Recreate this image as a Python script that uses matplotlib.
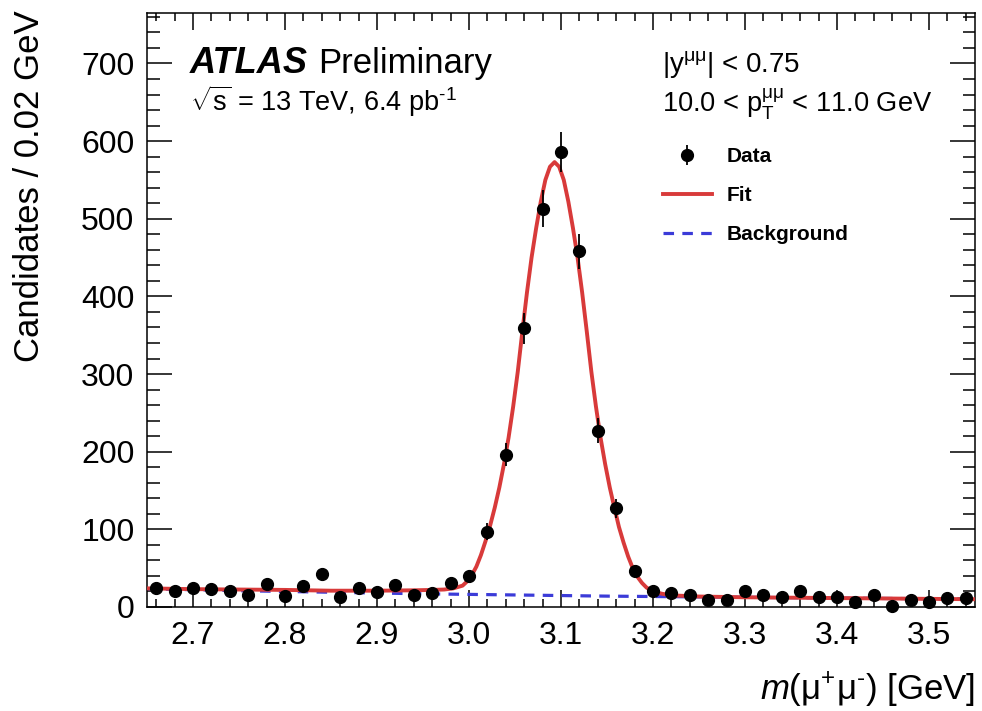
import numpy as np
import matplotlib
matplotlib.use('Agg')
import matplotlib.pyplot as plt
from matplotlib.ticker import MultipleLocator

# --- fontes (estilo ATLAS ~ Helvetica) ---
plt.rcParams['font.family'] = ['Liberation Sans', 'DejaVu Sans']
plt.rcParams['mathtext.fontset'] = 'custom'
plt.rcParams['mathtext.rm'] = 'Liberation Sans'
plt.rcParams['mathtext.it'] = 'Liberation Sans:italic'
plt.rcParams['mathtext.bf'] = 'Liberation Sans:bold'

# --- DADOS: histograma da massa do par de muons (bins de 0.02 GeV) ---
bin_centres = [2.66, 2.68, 2.70, 2.72, 2.74, 2.76, 2.78, 2.80, 2.82, 2.84,
               2.86, 2.88, 2.90, 2.92, 2.94, 2.96, 2.98, 3.00, 3.02, 3.04,
               3.06, 3.08, 3.10, 3.12, 3.14, 3.16, 3.18, 3.20, 3.22, 3.24,
               3.26, 3.28, 3.30, 3.32, 3.34, 3.36, 3.38, 3.40, 3.42, 3.44,
               3.46, 3.48, 3.50, 3.52, 3.54]
counts = [24, 20, 24, 23, 21, 16, 30, 14, 27, 43,
          13, 25, 19, 28, 16, 18, 31, 40, 97, 196,
          359, 513, 586, 458, 227, 127, 46, 21, 18, 16,
          9, 9, 20, 15, 13, 20, 13, 13, 7, 16,
          1, 9, 7, 12, 12]
count_errs = [5, 5, 5, 5, 5, 4, 6, 4, 5, 7,
              4, 5, 4, 5, 4, 4, 6, 7, 11, 15,
              20, 24, 26, 23, 16, 12, 7, 5, 4, 4,
              3, 3, 4, 4, 4, 4, 4, 4, 3, 4,
              2, 3, 3, 4, 4]

# curva do ajuste (sinal + fundo)
fit_mass = [2.65, 2.70, 2.75, 2.80, 2.85, 2.90, 2.94, 2.96, 2.973, 2.983,
            2.993, 2.998, 3.003, 3.008, 3.013, 3.018, 3.023, 3.028, 3.033, 3.038,
            3.043, 3.048, 3.053, 3.058, 3.063, 3.068, 3.073, 3.078, 3.083, 3.088,
            3.093, 3.098, 3.103, 3.108, 3.113, 3.118, 3.123, 3.128, 3.133, 3.138,
            3.143, 3.148, 3.153, 3.158, 3.163, 3.168, 3.173, 3.178, 3.183, 3.188,
            3.193, 3.20, 3.21, 3.22, 3.25, 3.30, 3.35, 3.40, 3.45, 3.50, 3.55]
fit_vals = [24, 23, 22.5, 22, 21, 21, 21.5, 22, 22.5, 24,
            27.5, 33, 41, 52, 67, 85, 105, 128, 154, 184,
            218, 258, 303, 355, 405, 450, 488, 522, 550, 567,
            573, 567, 550, 522, 488, 450, 405, 355, 303, 258,
            218, 184, 154, 128, 103, 83, 65, 50, 39, 31,
            25, 20, 17, 15, 13.5, 12.5, 12, 11.5, 11, 10.5, 10]

# componente de fundo
bkg_mass = [2.65, 2.75, 2.85, 2.95, 3.05, 3.15, 3.25, 3.35, 3.45, 3.55]
bkg_vals = [23.5, 21, 19, 17, 15.5, 14, 13, 12, 11, 10.5]

RED = '#d83a3a'
BLUE = '#3b3bd8'

fig = plt.figure(figsize=(9.82, 7.11), dpi=100)
ax = fig.add_axes([147 / 982, 1 - 607 / 711, 828 / 982, 594 / 711])

bkg_line, = ax.plot(bkg_mass, bkg_vals, color=BLUE, lw=2.3, dashes=(3.3, 2.6), zorder=2)
fit_line, = ax.plot(fit_mass, fit_vals, color=RED, lw=2.8, zorder=3)
data = ax.errorbar(bin_centres, counts, yerr=count_errs, fmt='o', color='black',
                   ms=8.5, elinewidth=1.3, capsize=0, zorder=4, clip_on=False)

ax.set_xlim(2.65, 3.55)
ax.set_ylim(0, 765)

# eixos no estilo ROOT: ticks para dentro nos quatro lados
ax.xaxis.set_major_locator(MultipleLocator(0.1))
ax.xaxis.set_minor_locator(MultipleLocator(0.02))
ax.yaxis.set_major_locator(MultipleLocator(100))
ax.yaxis.set_minor_locator(MultipleLocator(20))
ax.tick_params(axis='both', which='both', direction='in', top=True, right=True,
               width=1.1, labelsize=23)
ax.tick_params(axis='x', which='major', length=12, pad=10)
ax.tick_params(axis='x', which='minor', length=6)
ax.tick_params(axis='y', which='major', length=18, pad=9)
ax.tick_params(axis='y', which='minor', length=9)
ax.set_xticks([2.7, 2.8, 2.9, 3.0, 3.1, 3.2, 3.3, 3.4, 3.5])
ax.set_xticklabels(['2.7', '2.8', '2.9', '3.0', '3.1', '3.2', '3.3', '3.4', '3.5'])
for sp in ax.spines.values():
    sp.set_linewidth(1.1)

# titulos dos eixos (alinhados ao fim, como no ROOT)
fig.text(30 / 982, 1 - 10 / 711, 'Candidates / 0.02 GeV', rotation=90,
         ha='center', va='top', fontsize=25)
fig.text(975 / 982, 1 - 690 / 711, r'$m$(μ$^{+}$μ$^{\text{-}}$) [GeV]',
         ha='right', va='center', fontsize=25)

# rotulos ATLAS
ax.text(0.052, 0.899, 'ATLAS', transform=ax.transAxes, fontsize=26,
        fontweight='bold', fontstyle='italic', va='baseline')
ax.text(0.2065, 0.899, 'Preliminary', transform=ax.transAxes, fontsize=25, va='baseline')
ax.text(0.052, 0.835, r'$\sqrt{\mathrm{s}}$ = 13 TeV, 6.4 pb$^{\text{-}1}$',
        transform=ax.transAxes, fontsize=19.5, va='baseline')
ax.text(0.622, 0.900, r'|y$^{\mathrm{μμ}}$| < 0.75', transform=ax.transAxes,
        fontsize=20, va='baseline')
ax.text(0.622, 0.833, r'10.0 < p$_{\mathrm{T}}^{\mathrm{μμ}}$ < 11.0 GeV',
        transform=ax.transAxes, fontsize=19.6, va='baseline')

ax.legend([data, fit_line, bkg_line], ['Data', 'Fit', 'Background'],
          loc='upper left', bbox_to_anchor=(0.623, 0.774), frameon=False,
          prop={'weight': 'bold', 'size': 15}, borderpad=0, borderaxespad=0,
          handlelength=2.35, handletextpad=0.72, labelspacing=0.95)

fig.savefig('out.png', dpi=100)
